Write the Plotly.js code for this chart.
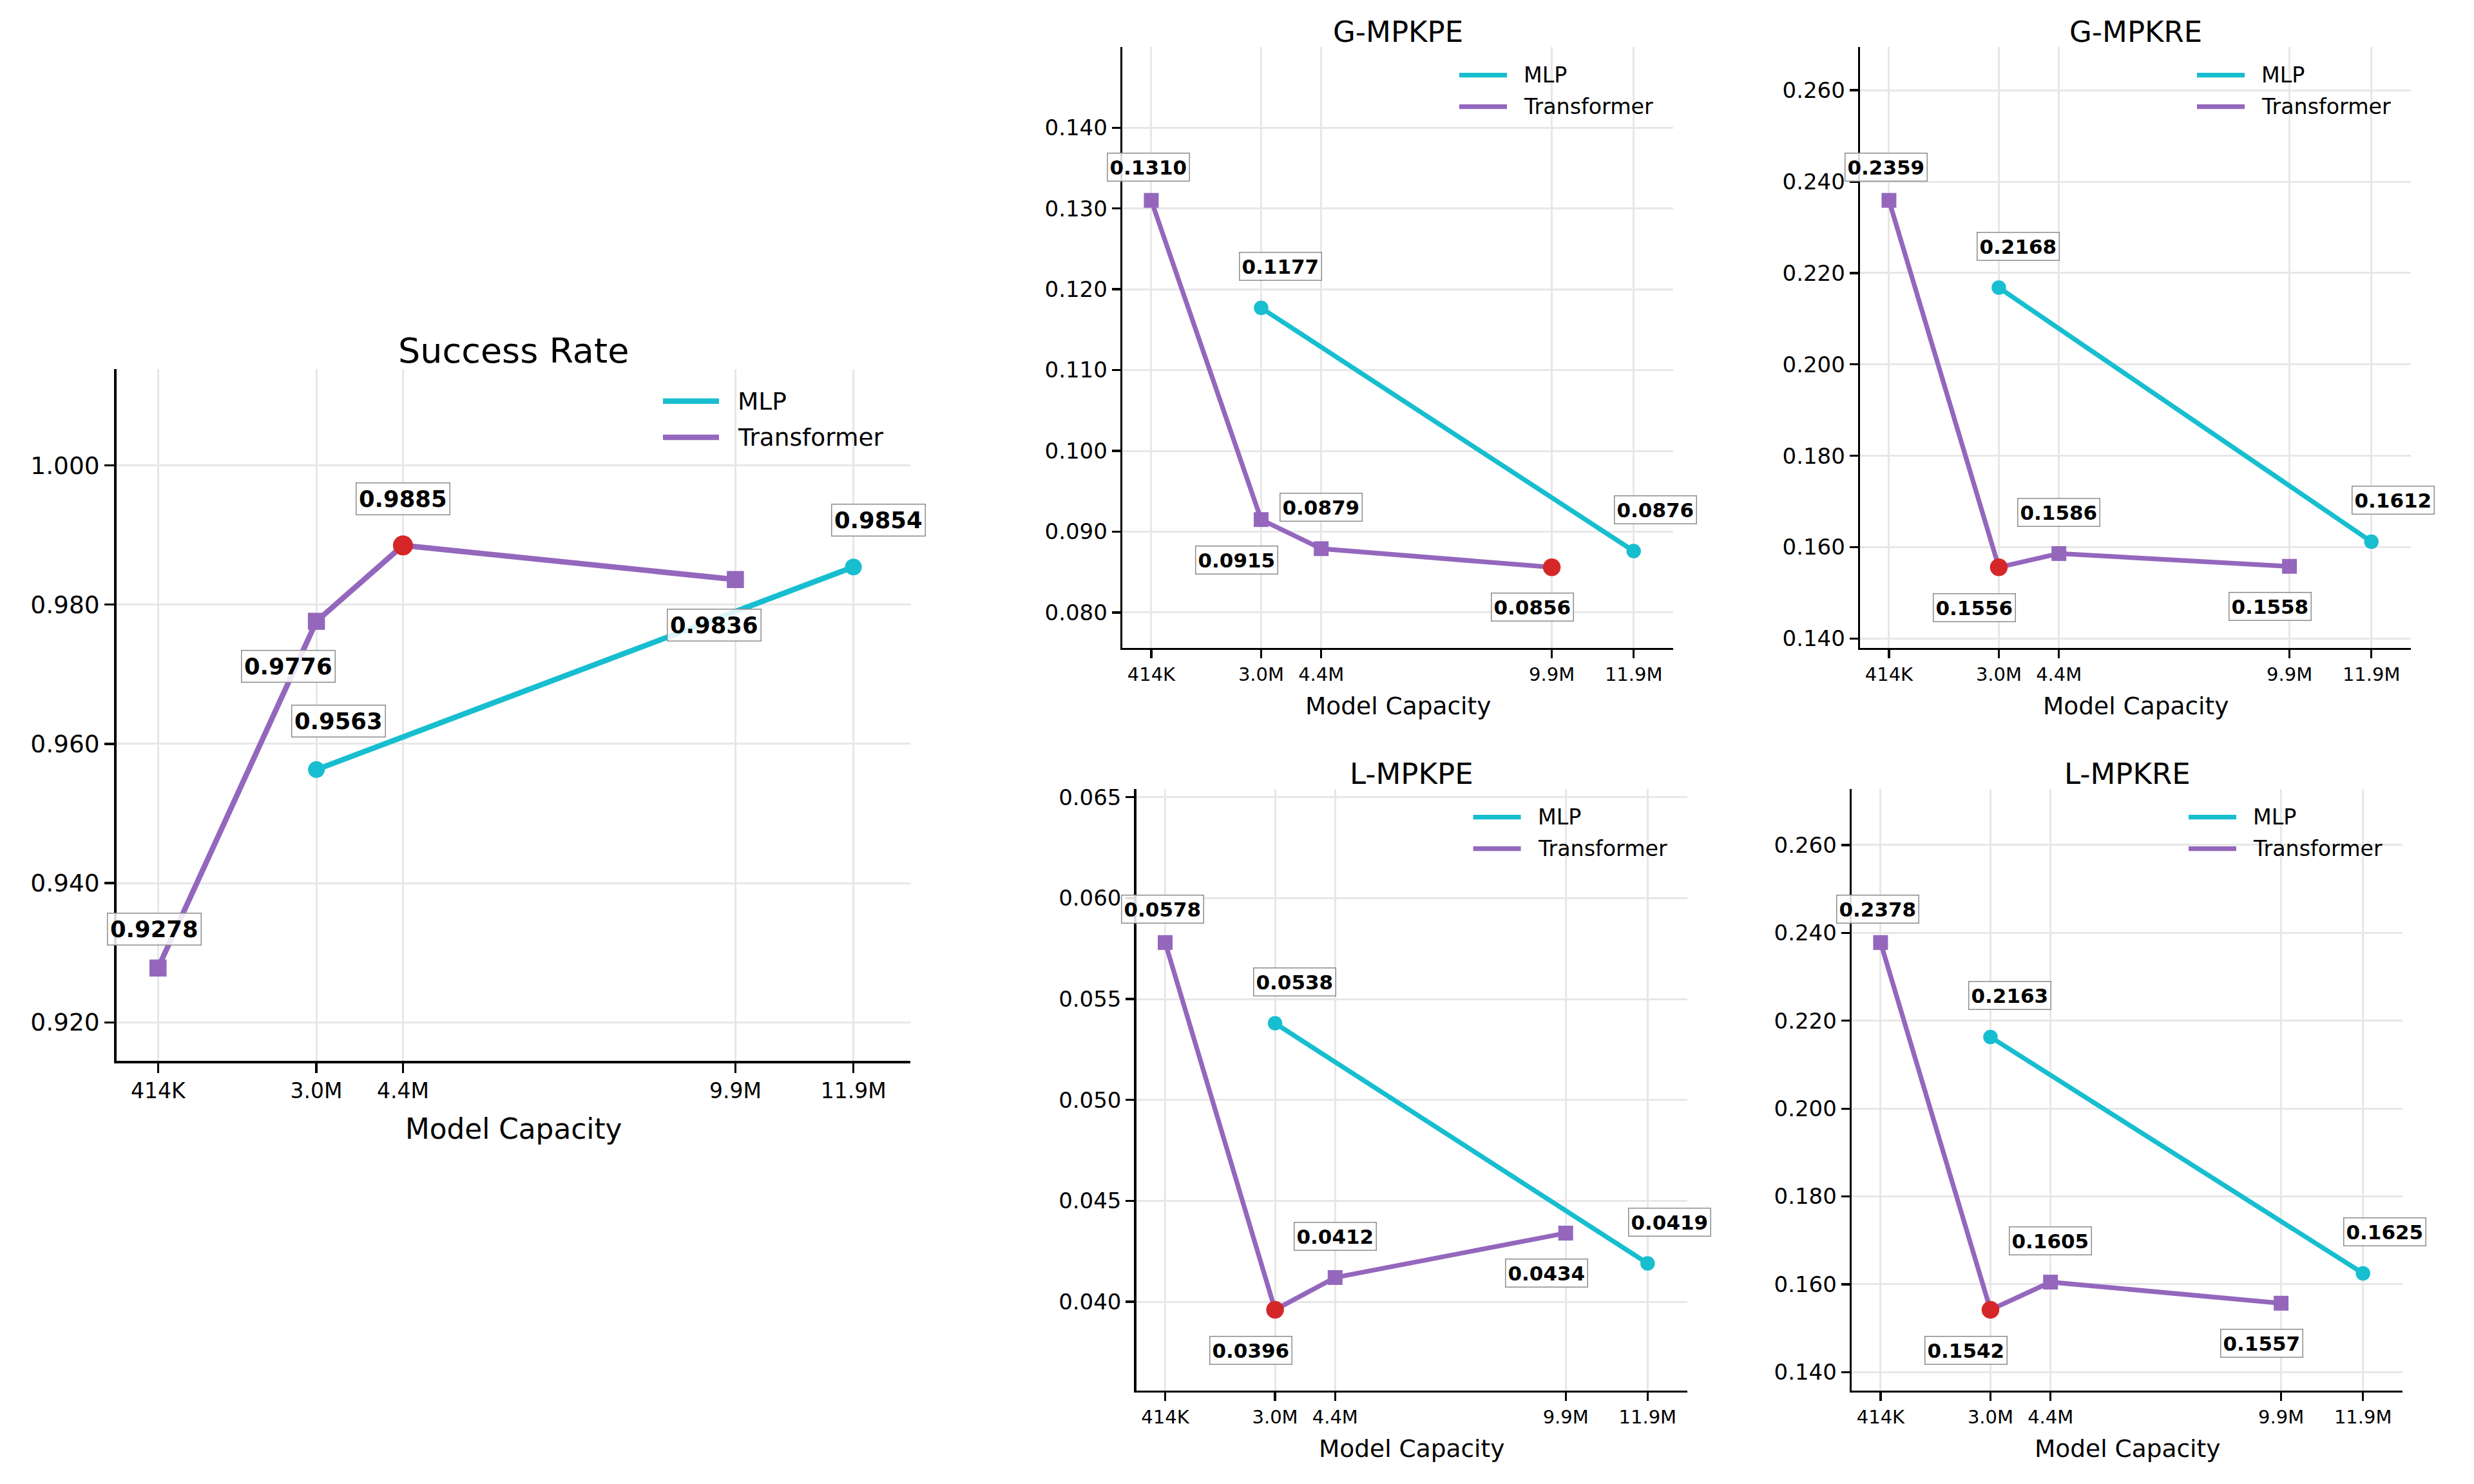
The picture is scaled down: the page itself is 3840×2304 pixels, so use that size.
<!DOCTYPE html>
<html>
<head>
<meta charset="utf-8">
<script src="https://cdn.plot.ly/plotly-3.0.1.min.js"></script>
<style>
  html, body { margin: 0; padding: 0; background: #fff; }
  #chart { width: 3840px; height: 2304px; }
</style>
</head>
<body>
<div id="chart"></div>
<script>
// Model sizes (millions of parameters) and their tick labels
const paramsM = [0.414, 3.03, 4.46, 9.95, 11.9];
const sizeLabels = ['414K', '3.0M', '4.4M', '9.9M', '11.9M'];

// Which model sizes each architecture was trained at (indices into paramsM)
const transformerAt = [0, 1, 2, 3];
const mlpAt = [1, 4];

// Metric values per architecture
const successTransformer = [0.9278, 0.9776, 0.9885, 0.9836];
const successMlp = [0.9563, 0.9854];
const gMpkpeTransformer = [0.1310, 0.0915, 0.0879, 0.0856];
const gMpkpeMlp = [0.1177, 0.0876];
const gMpkreTransformer = [0.2359, 0.1556, 0.1586, 0.1558];
const gMpkreMlp = [0.2168, 0.1612];
const lMpkpeTransformer = [0.0578, 0.0396, 0.0412, 0.0434];
const lMpkpeMlp = [0.0538, 0.0419];
const lMpkreTransformer = [0.2378, 0.1542, 0.1605, 0.1557];
const lMpkreMlp = [0.2163, 0.1625];

const panelTitles = ['Success Rate', 'G-MPKPE', 'G-MPKRE', 'L-MPKPE', 'L-MPKRE'];
const higherIsBetter = [true, false, false, false, false];
const yTickStep = [0.02, 0.01, 0.02, 0.005, 0.02];

const seriesNames = ['MLP', 'Transformer'];
const seriesColors = ['#17becf', '#9467bd'];
const bestColor = '#d62728';

const metricData = [
  [successMlp, successTransformer],
  [gMpkpeMlp, gMpkpeTransformer],
  [gMpkreMlp, gMpkreTransformer],
  [lMpkpeMlp, lMpkpeTransformer],
  [lMpkreMlp, lMpkreTransformer]
];
const seriesAt = [mlpAt, transformerAt];
const seriesSymbol = ['circle', 'square'];

// ---- page geometry (pixels) ----
const W = 3840, H = 2304;
const fx = p => p / W;
const fy = p => 1 - p / H;

// plot-area frames: [left, top, right, bottom]
const frames = [
  [180.5, 572.5, 1413, 1647.3],
  [1742, 73, 2597, 1006],
  [2887, 73, 3742, 1006],
  [1763.6, 1225, 2618.6, 2159],
  [2874, 1225, 3729, 2159]
];

const bigStyle = {
  title: 54, titleGap: 28.5, tickY: 37.5, tickX: 33, xlabel: 43.75, xlabelGap: 105,
  legendFont: 37.5, lineW: 8.5, sq: 26.5, circ: 26, best: 31, label: 35.4, ticklen: 15,
  legLineStart: 384, legLineEnd: 297, legText: 270, legRows: [50.2, 106.5], pad: 3.5,
  offsets: [[[34, -75], [39, -73]], [[-6, -60], [-44, 70], [0, -72.5], [-33, 71]]]
};
const smallStyle = {
  title: 45, titleGap: 24, tickY: 34, tickX: 29, xlabel: 37.5, xlabelGap: 90,
  legendFont: 33.3, lineW: 7.3, sq: 23, circ: 22.5, best: 27.5, label: 31, ticklen: 13,
  legLineStart: 332, legLineEnd: 258, legText: 234, legRows: [43.7, 92.7], pad: 3,
  offsets: [[[30, -64], [34, -64]], [[-4, -52], [-38, 63], [0, -64], [-30, 62]]]
};

const FONT = 'DejaVu Sans';
const traces = [];
const annotations = [];
const shapes = [];
const layout = {
  width: W, height: H,
  margin: { l: 0, r: 0, t: 0, b: 0, pad: 0 },
  paper_bgcolor: '#ffffff',
  plot_bgcolor: '#ffffff',
  showlegend: false,
  font: { family: FONT, color: '#000000' }
};

panelTitles.forEach((title, i) => {
  const st = i === 0 ? bigStyle : smallStyle;
  const [l, t, r, b] = frames[i];
  const sfx = i === 0 ? '' : String(i + 1);
  const xa = 'x' + sfx, ya = 'y' + sfx;

  const [mlpVals, trVals] = metricData[i];
  const all = mlpVals.concat(trVals);
  const lo = Math.min(...all), hi = Math.max(...all), span = hi - lo;
  const bestVal = higherIsBetter[i] ? hi : lo;

  layout['xaxis' + sfx] = {
    domain: [fx(l), fx(r)], anchor: ya,
    range: [-0.275, 12.84],
    tickvals: paramsM, ticktext: sizeLabels,
    tickfont: { family: FONT, size: st.tickX, color: '#000' },
    ticks: 'outside', ticklen: st.ticklen, tickwidth: 3.3, tickcolor: '#000',
    showline: true, linecolor: '#000', linewidth: 3.3, mirror: false,
    showgrid: true, gridcolor: '#e7e7e7', gridwidth: 3,
    zeroline: false, fixedrange: true
  };
  layout['yaxis' + sfx] = {
    domain: [fy(b), fy(t)], anchor: xa,
    range: [lo - 0.22 * span, hi + 0.418 * span],
    tick0: 0, dtick: yTickStep[i], tickformat: '.3f',
    tickfont: { family: FONT, size: st.tickY, color: '#000' },
    ticks: 'outside', ticklen: st.ticklen, tickwidth: 3.3, tickcolor: '#000',
    showline: true, linecolor: '#000', linewidth: 3.3, mirror: false,
    showgrid: true, gridcolor: '#e7e7e7', gridwidth: 3,
    zeroline: false, fixedrange: true
  };

  // series lines, markers and value labels
  [0, 1].forEach(s => {
    const vals = metricData[i][s];
    const xs = seriesAt[s].map(k => paramsM[k]);
    const isBest = vals.map(v => v === bestVal);
    const baseSize = s === 0 ? st.circ : st.sq;
    traces.push({
      type: 'scatter', mode: 'lines+markers',
      x: xs, y: vals, xaxis: xa, yaxis: ya,
      name: seriesNames[s],
      line: { color: seriesColors[s], width: st.lineW },
      marker: {
        symbol: isBest.map(f => f ? 'circle' : seriesSymbol[s]),
        color: isBest.map(f => f ? bestColor : seriesColors[s]),
        size: isBest.map(f => f ? st.best : baseSize),
        opacity: 1,
        line: { width: 0 }
      },
      cliponaxis: false,
      hoverinfo: 'skip'
    });
    vals.forEach((v, j) => {
      const [dx, dy] = st.offsets[s][j];
      annotations.push({
        xref: xa, yref: ya, x: xs[j], y: v,
        text: v.toFixed(4), showarrow: false,
        xanchor: 'center', yanchor: 'middle',
        xshift: dx, yshift: -dy,
        font: { family: FONT, size: st.label, color: '#000', weight: 'bold' },
        bgcolor: 'rgba(255,255,255,0.85)',
        bordercolor: '#8c8c8c', borderwidth: 1.5, borderpad: st.pad
      });
    });
  });

  // panel title
  annotations.push({
    xref: 'paper', yref: 'paper', x: fx((l + r) / 2), y: fy(t - st.titleGap),
    text: title, showarrow: false, xanchor: 'center', yanchor: 'middle',
    font: { family: FONT, size: st.title, color: '#000' }
  });
  // x axis label
  annotations.push({
    xref: 'paper', yref: 'paper', x: fx((l + r) / 2), y: fy(b + st.xlabelGap),
    text: 'Model Capacity', showarrow: false, xanchor: 'center', yanchor: 'middle',
    font: { family: FONT, size: st.xlabel, color: '#000' }
  });

  // legend (upper right, line samples only)
  seriesNames.forEach((name, s) => {
    const yRow = t + st.legRows[s];
    shapes.push({
      type: 'line', xref: 'paper', yref: 'paper',
      x0: fx(r - st.legLineStart), x1: fx(r - st.legLineEnd), y0: fy(yRow), y1: fy(yRow),
      line: { color: seriesColors[s], width: st.lineW }
    });
    annotations.push({
      xref: 'paper', yref: 'paper', x: fx(r - st.legText), y: fy(yRow),
      text: name, showarrow: false, xanchor: 'left', yanchor: 'middle',
      font: { family: FONT, size: st.legendFont, color: '#000' }
    });
  });
});

layout.annotations = annotations;
layout.shapes = shapes;

Plotly.newPlot('chart', traces, layout, { staticPlot: true, displayModeBar: false });
</script>
</body>
</html>
